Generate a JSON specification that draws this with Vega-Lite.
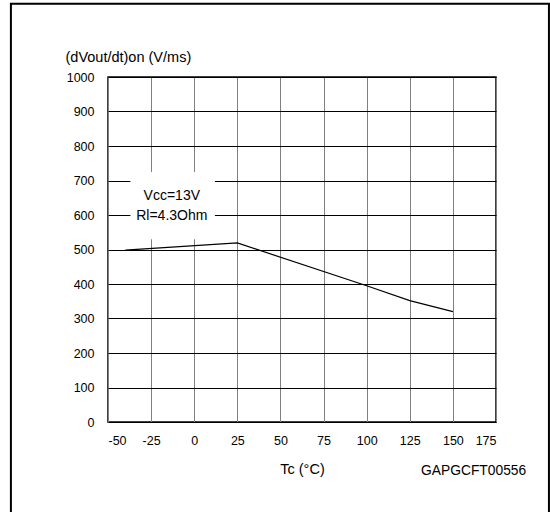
{
  "$schema": "https://vega.github.io/schema/vega-lite/v6.json",
  "autosize": "none",
  "width": 388,
  "height": 345,
  "padding": {"left": 108, "top": 77, "right": 54, "bottom": 90},
  "background": "white",
  "config": {
    "font": "Liberation Sans",
    "view": {"stroke": "#000", "strokeWidth": 1.5},
    "axis": {"labelFont": "Liberation Sans", "titleFont": "Liberation Sans", "labelFontSize": 12.5, "titleFontSize": 14.5, "labelColor": "#000", "titleColor": "#000", "titleFontWeight": "normal", "ticks": false, "domain": false, "gridOpacity": 1, "gridWidth": 1, "labelOverlap": false}
  },
  "datasets": {
    "curve": [
      {"x": -40, "y": 498},
      {"x": 25, "y": 519},
      {"x": 100, "y": 395},
      {"x": 125, "y": 352},
      {"x": 150, "y": 320}
    ],
    "box": [{"x": -37, "x2": 12, "y": 530, "y2": 725}],
    "notes": [
      {"x": -13, "y": 654, "label": "Vcc=13V"},
      {"x": -13, "y": 596, "label": "Rl=4.3Ohm"}
    ],
    "code": [{"x": 192.5, "y": -142, "label": "GAPGCFT00556"}],
    "frame": [{"x": -106.3, "x2": 205.7, "y": -300, "y2": 1212}]
  },
  "encoding": {
    "x": {"field": "x", "type": "quantitative", "scale": {"domain": [-50, 175], "nice": false, "zero": false},
      "axis": {"values": [-50, -25, 0, 25, 50, 75, 100, 125, 150, 175], "labelExpr": "datum.value < 0 ? '-' + abs(datum.value) : '' + datum.value", "gridColor": "#808080", "labelPadding": 12, "title": "Tc (°C)", "titlePadding": 16}},
    "y": {"field": "y", "type": "quantitative", "scale": {"domain": [0, 1000], "nice": false},
      "axis": {"values": [0, 100, 200, 300, 400, 500, 600, 700, 800, 900, 1000], "labelExpr": "'' + datum.value", "gridColor": "#000", "labelPadding": 14, "title": "(dVout/dt)on (V/ms)", "titleAngle": 0, "titleAlign": "left", "titleBaseline": "middle", "titleX": -43, "titleY": -20}}
  },
  "layer": [
    {
      "data": {"name": "box"},
      "mark": {"type": "rect", "fill": "white", "stroke": null},
      "encoding": {"x2": {"field": "x2"}, "y2": {"field": "y2"}}
    },
    {
      "data": {"name": "curve"},
      "mark": {"type": "line", "color": "#000", "strokeWidth": 1.2},
      "encoding": {}
    },
    {
      "data": {"name": "notes"},
      "mark": {"type": "text", "fontSize": 14, "color": "#000", "align": "center", "baseline": "middle"},
      "encoding": {"text": {"field": "label"}}
    },
    {
      "data": {"name": "code"},
      "mark": {"type": "text", "fontSize": 13.8, "color": "#000", "align": "right", "baseline": "middle", "clip": false},
      "encoding": {"text": {"field": "label"}}
    },
    {
      "data": {"name": "frame"},
      "mark": {"type": "rect", "fill": null, "fillOpacity": 0, "stroke": "#000", "strokeWidth": 2, "clip": false},
      "encoding": {"x2": {"field": "x2"}, "y2": {"field": "y2"}}
    }
  ]
}
